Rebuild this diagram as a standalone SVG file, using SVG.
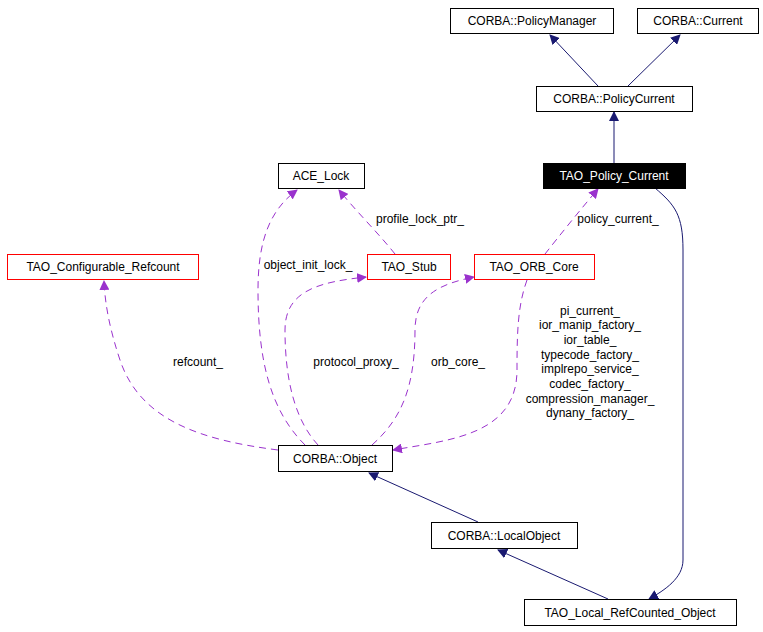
<svg xmlns="http://www.w3.org/2000/svg" width="763" height="632" viewBox="0 0 763 632">
<style>
text{font-family:"Liberation Sans",Arial,sans-serif;font-size:12px;text-anchor:middle;fill:#000}
.n rect{fill:#fff;stroke:#000;stroke-width:1}
.r rect{fill:#fff;stroke:#ff0000;stroke-width:1}
.s{fill:none;stroke:#191970;stroke-width:1}
.d{fill:none;stroke:#9a32cd;stroke-width:1;stroke-dasharray:7,5}
</style>
<defs>
<marker id="an" markerWidth="10" markerHeight="10" refX="9" refY="5" orient="auto" markerUnits="userSpaceOnUse" viewBox="0 0 10 10"><path d="M0,0L10,5L0,10z" fill="#191970"/></marker>
<marker id="ap" markerWidth="10" markerHeight="10" refX="9" refY="5" orient="auto" markerUnits="userSpaceOnUse" viewBox="0 0 10 10"><path d="M0,0L10,5L0,10z" fill="#9a32cd"/></marker>
</defs>
<rect width="763" height="632" fill="#fff"/>
<g id="connectors">
<path class="s" d="M598,86 L550,35" marker-end="url(#an)"/>
<path class="s" d="M628,86 L680,35" marker-end="url(#an)"/>
<path class="s" d="M614,163 L614,112" marker-end="url(#an)"/>
<path class="s" d="M478,522 L369,473" marker-end="url(#an)"/>
<path class="s" d="M608,599 L498,550" marker-end="url(#an)"/>
<path class="s" d="M655,188 C675,205 683,215 683,250 L683,560 C683,578 665,590 649,599" marker-end="url(#an)"/>
<path class="d" d="M278,450 C200,440 140,420 120,360 C110,330 105,305 104,281" marker-end="url(#ap)"/>
<path class="d" d="M305,445 C270,410 258,360 258,290 C258,240 270,210 297,190" marker-end="url(#ap)"/>
<path class="d" d="M395,254 C380,235 355,210 339,190" marker-end="url(#ap)"/>
<path class="d" d="M318,445 C295,420 285,380 285,330 C285,290 320,282 366,277" marker-end="url(#ap)"/>
<path class="d" d="M372,445 C400,420 415,390 415,330 C415,295 440,284 474,277" marker-end="url(#ap)"/>
<path class="d" d="M527,280 C518,305 517,330 517,370 C517,435 450,440 393,450" marker-end="url(#ap)"/>
<path class="d" d="M545,254 C560,235 580,210 598,189" marker-end="url(#ap)"/>
<text x="198" y="366">refcount_</text>
<text x="308" y="269">object_init_lock_</text>
<text x="420" y="223">profile_lock_ptr_</text>
<text x="356" y="366">protocol_proxy_</text>
<text x="458" y="366">orb_core_</text>
<text x="618" y="223">policy_current_</text>
<text x="590" y="315">pi_current_</text>
<text x="590" y="329">ior_manip_factory_</text>
<text x="590" y="344">ior_table_</text>
<text x="590" y="359">typecode_factory_</text>
<text x="590" y="373">implrepo_service_</text>
<text x="590" y="388">codec_factory_</text>
<text x="590" y="403">compression_manager_</text>
<text x="590" y="417">dynany_factory_</text>
</g>
<g id="PolicyManager" class="n"><rect x="450.5" y="8.5" width="163" height="25"/><text x="532" y="25">CORBA::PolicyManager</text></g>
<g id="Current" class="n"><rect x="637.5" y="8.5" width="121" height="25"/><text x="698" y="25">CORBA::Current</text></g>
<g id="PolicyCurrent" class="n"><rect x="536.5" y="86.5" width="156" height="25"/><text x="614" y="103">CORBA::PolicyCurrent</text></g>
<g id="TAO_Policy_Current"><rect x="543.5" y="163.5" width="142" height="25" fill="#000" stroke="#000"/><text x="614" y="180" style="fill:#fff">TAO_Policy_Current</text></g>
<g id="ACE_Lock" class="n"><rect x="278.5" y="163.5" width="86" height="25"/><text x="321" y="180">ACE_Lock</text></g>
<g id="TAO_Configurable_Refcount" class="r"><rect x="7.5" y="254.5" width="191" height="25"/><text x="103" y="271">TAO_Configurable_Refcount</text></g>
<g id="TAO_Stub" class="r"><rect x="367.5" y="254.5" width="83" height="25"/><text x="409" y="271">TAO_Stub</text></g>
<g id="TAO_ORB_Core" class="r"><rect x="474.5" y="254.5" width="120" height="25"/><text x="534" y="271">TAO_ORB_Core</text></g>
<g id="CORBA_Object" class="n"><rect x="278.5" y="445.5" width="114" height="26"/><text x="335" y="463">CORBA::Object</text></g>
<g id="LocalObject" class="n"><rect x="431.5" y="522.5" width="146" height="26"/><text x="504" y="540">CORBA::LocalObject</text></g>
<g id="TAO_Local_RefCounted_Object" class="n"><rect x="524.5" y="599.5" width="212" height="26"/><text x="630" y="617">TAO_Local_RefCounted_Object</text></g>
</svg>
